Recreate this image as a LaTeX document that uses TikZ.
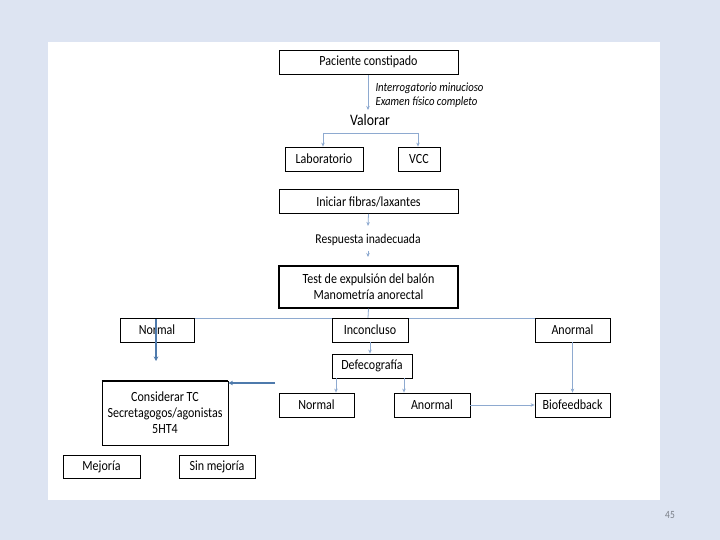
\documentclass[tikz,border=0pt]{standalone}
\usepackage{fontspec}
\setmainfont{Carlito}[FakeStretch=0.86]
\usetikzlibrary{arrows.meta}
\definecolor{bgblue}{HTML}{DDE4F2}
\definecolor{linkblue}{HTML}{8EAAD0}
\definecolor{darkblue}{HTML}{4E7AAC}
\definecolor{pagegray}{HTML}{7A7F88}
\tikzset{
  box/.style={draw=black, thick, fill=white, inner sep=0pt, minimum height=24pt, font=\fontsize{14}{16}\selectfont},
  link/.style={linkblue, line width=0.8pt, -{Stealth[length=4pt,width=3.5pt]}},
  plainlink/.style={linkblue, line width=0.8pt},
  darklink/.style={darkblue, line width=1.5pt, -{Stealth[length=4.5pt,width=4.5pt]}}
}
\begin{document}
\begin{tikzpicture}[x=1pt, y=-1pt]
    \useasboundingbox (0,0) rectangle (720,540);
    % fondo
    \fill[bgblue] (0,0) rectangle (720,540);
    \fill[white] (48,42) rectangle (660,500);
    \node[pagegray, font=\fontsize{11}{13}\selectfont] (pagenum) at (670,515) {45};

    % conectores de la rama superior
    \coordinate (arrowtop) at (368,74);
    \draw[link] (arrowtop) -- (368,110);
    \draw[plainlink] (323,133) -- (418,133);

    % cajas superiores
    \node[box, minimum width=179pt] (paciente) at (368.5,62) {Paciente constipado};
    \node[font=\fontsize{12.5}{14}\selectfont\itshape, align=left, anchor=west] (interrog) at (372,95)
        {Interrogatorio minucioso\\[0pt]Examen físico completo};
    \node[font=\fontsize{16}{18}\selectfont] (valorar) at (370,120) {Valorar};
    \node[box, minimum width=78pt] (lab) at (324,159) {Laboratorio};
    \node[box, minimum width=42pt] (vcc) at (419,159) {VCC};
    \draw[link] (323,133) -- (lab.north -| 323,0);
    \draw[link] (418,133) -- (vcc.north -| 418,0);

    \node[box, minimum width=179pt] (fibras) at (368.5,201.5) {Iniciar fibras/laxantes};
    \node[font=\fontsize{13.5}{15}\selectfont] (respuesta) at (368,240) {Respuesta inadecuada};
    \draw[link] (fibras.south) -- (368,226);
    \draw[link] (368,251) -- (368,257);
    \node[box, line width=1.4pt, minimum width=179pt, minimum height=42pt, align=center] (test) at (368.5,287)
        {Test de expulsión del balón\\Manometría anorectal};

    % linea horizontal de resultados
    \coordinate (hleft) at (120,318);
    \coordinate (hright) at (610,318);
    \draw[plainlink] (test.south) -- (368,318);
    \draw[plainlink] (hleft) -- (hright);

    \node[box, minimum width=74pt] (normal) at (157,330) {Normal};
    \node[box, minimum width=76pt] (inconcluso) at (370,330) {Inconcluso};
    \node[box, minimum width=75pt] (anormal) at (572.5,330) {Anormal};

    % rama normal
    \coordinate (normend) at (156,361);
    \draw[darklink] (156,319) -- (normend);
    \node[box, minimum width=126pt, minimum height=64pt, align=center] (considerar) at (165,413)
        {Considerar TC\\Secretagogos/agonistas\\5HT4};
    \draw[black, line width=1.6pt] (considerar.north west) -- (considerar.north east);
    \coordinate (leftstart) at (275,383);
    \draw[darklink] (leftstart) -- (considerar.east |- leftstart);
    \node[box, minimum width=77pt, minimum height=23pt] (mejoria) at (101.5,466.5) {Mejoría};
    \node[box, minimum width=76pt, minimum height=23pt] (sinmejoria) at (217,466.5) {Sin mejoría};

    % rama inconclusa
    \node[box, minimum width=80pt] (defeco) at (372,366) {Defecografía};
    \draw[link] (inconcluso.south) -- (defeco.north -| inconcluso.south);
    \node[box, minimum width=75pt] (normal2) at (316.5,405) {Normal};
    \node[box, minimum width=76pt] (anormal2) at (432,405) {Anormal};
    \node[box, minimum width=75pt] (biofeed) at (572.5,405) {Biofeedback};
    \draw[link] (336,378) -- (normal2.north -| 336,0);
    \draw[link] (404,378) -- (anormal2.north -| 404,0);
    \draw[link] (anormal2.east) -- (biofeed.west);
    \draw[link] (anormal.south) -- (biofeed.north);
\end{tikzpicture}
\end{document}
